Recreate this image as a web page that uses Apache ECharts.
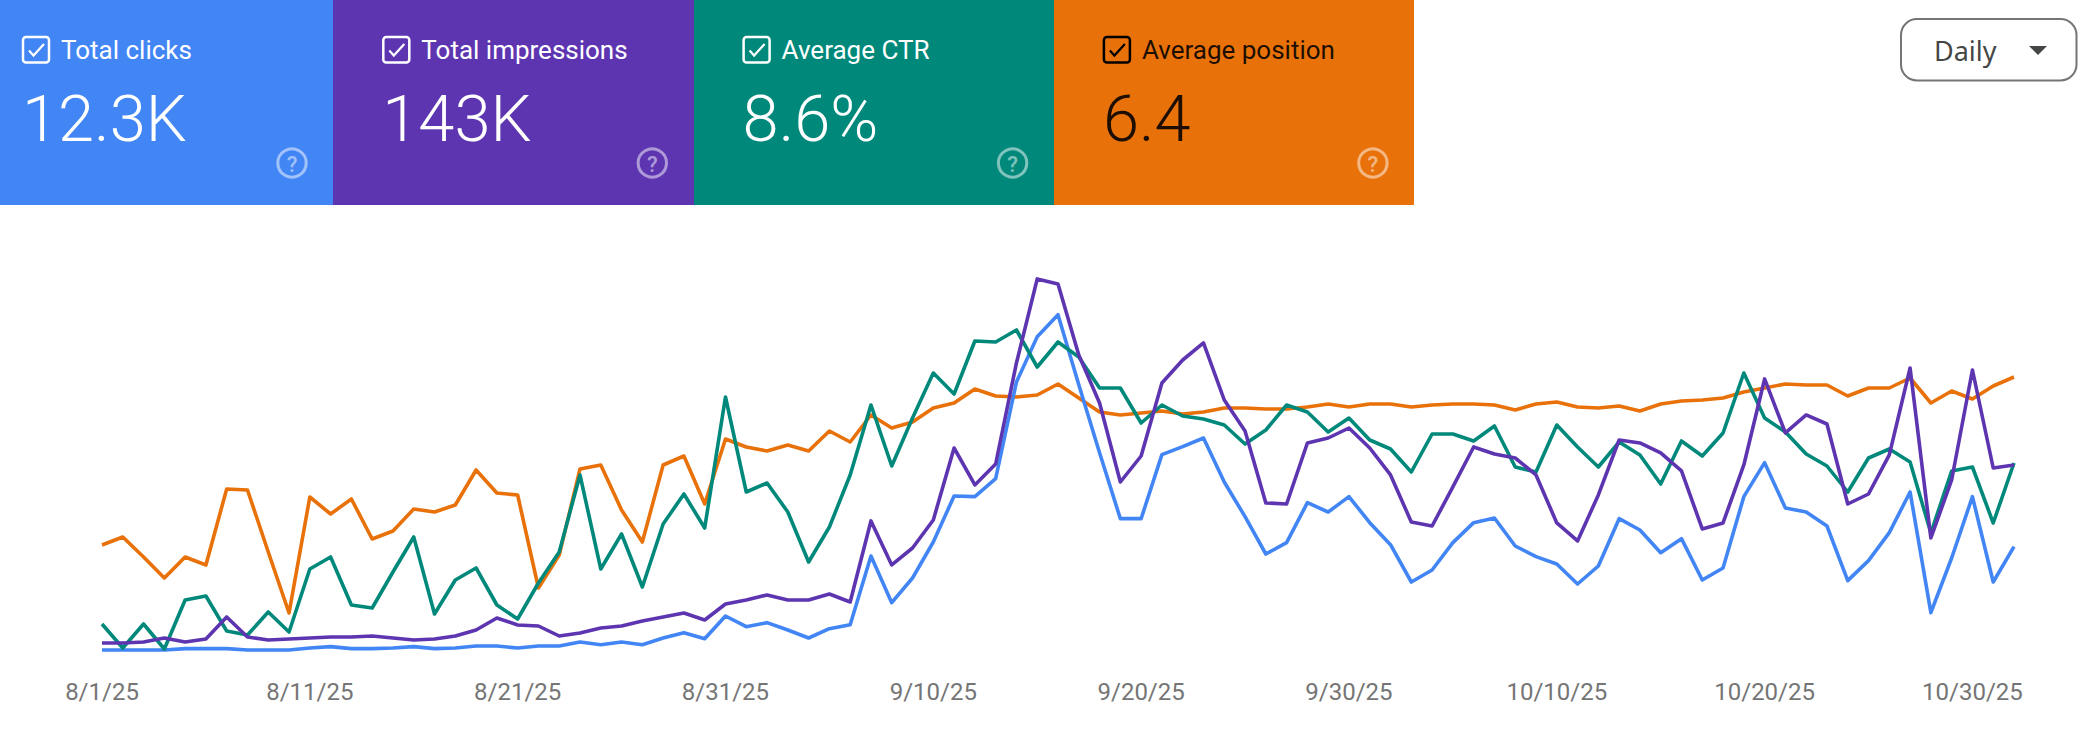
<!DOCTYPE html>
<html>
<head>
<meta charset="utf-8">
<title>Search performance</title>
<style>
  html, body { margin: 0; padding: 0; background: #fff; }
  #chart { width: 2100px; height: 742px; }
</style>
<script src="https://cdn.jsdelivr.net/npm/echarts@6/dist/echarts.min.js"></script>
</head>
<body>
<div id="chart"></div>
<script>
const dates = [
  '8/1/25','8/2/25','8/3/25','8/4/25','8/5/25','8/6/25','8/7/25','8/8/25','8/9/25','8/10/25',
  '8/11/25','8/12/25','8/13/25','8/14/25','8/15/25','8/16/25','8/17/25','8/18/25','8/19/25','8/20/25',
  '8/21/25','8/22/25','8/23/25','8/24/25','8/25/25','8/26/25','8/27/25','8/28/25','8/29/25','8/30/25',
  '8/31/25','9/1/25','9/2/25','9/3/25','9/4/25','9/5/25','9/6/25','9/7/25','9/8/25','9/9/25',
  '9/10/25','9/11/25','9/12/25','9/13/25','9/14/25','9/15/25','9/16/25','9/17/25','9/18/25','9/19/25',
  '9/20/25','9/21/25','9/22/25','9/23/25','9/24/25','9/25/25','9/26/25','9/27/25','9/28/25','9/29/25',
  '9/30/25','10/1/25','10/2/25','10/3/25','10/4/25','10/5/25','10/6/25','10/7/25','10/8/25','10/9/25',
  '10/10/25','10/11/25','10/12/25','10/13/25','10/14/25','10/15/25','10/16/25','10/17/25','10/18/25','10/19/25',
  '10/20/25','10/21/25','10/22/25','10/23/25','10/24/25','10/25/25','10/26/25','10/27/25','10/28/25','10/29/25',
  '10/30/25','10/31/25','11/1/25'
];

const clicks = [
  9,9,9,9,11,11,11,9,9,9,12,14,11,11,12,14,11,12,15,15,12,15,15,21,
  17,21,17,27,35,26,60,44,50,39,27,41,47,150,80,117,171,240,239,266,
  411,479,512,407,305,206,206,302,314,327,261,209,153,170,230,216,239,200,167,111,129,
  170,200,207,165,149,138,108,135,206,189,155,176,114,132,239,290,222,216,195,113,143,185,246,65,147,239,111,164
];

const impressions = [
  150,150,161,207,161,196,449,219,184,196,207,219,219,230,207,184,196,230,299,437,357,345,
  230,265,322,345,403,449,495,414,598,644,702,644,644,713,621,1553,1047,1242,1564,2392,1967,2208,
  3370,4336,4278,3462,2910,2001,2300,3140,3404,3600,2944,2588,1760,1748,2450,2507,2622,2392,2082,1541,1495,
  1944,2404,2323,2277,2082,1530,1323,1852,2484,2450,2335,2128,1461,1530,2197,3186,2565,2772,2668,1748,1863,2312,3312,1357,2024,3289,2162,2197
];

const ctr = [
  5.84,5.36,5.84,5.34,6.32,6.40,5.70,5.62,6.08,5.68,6.94,7.18,6.22,6.16,6.88,7.58,6.04,6.72,6.96,6.22,5.94,6.66,7.28,8.82,
  6.94,7.64,6.58,7.84,8.44,7.76,10.38,8.48,8.66,8.08,7.08,7.78,8.82,10.22,9.00,9.96,10.86,10.44,
  11.50,11.48,11.72,10.98,11.48,11.18,10.56,10.56,9.86,10.22,10.00,9.94,9.82,9.44,9.72,10.22,10.08,9.68,9.96,9.52,9.34,8.88,9.64,
  9.64,9.50,9.80,8.98,8.88,9.82,9.38,8.98,9.48,9.22,8.64,9.50,9.20,9.66,10.86,9.96,9.68,9.24,9.00,8.48,9.16,9.34,9.08,7.66,8.90,8.98,7.86,9.06
];

const position = [
  8.46,8.30,8.70,9.12,8.70,8.86,7.34,7.36,8.60,9.82,7.50,7.84,7.54,8.34,8.18,7.74,7.80,7.66,6.96,7.42,7.46,9.32,8.66,
  6.94,6.86,7.76,8.40,6.86,6.68,7.64,6.34,6.50,6.58,6.46,6.58,6.18,6.40,5.86,6.12,6.00,5.72,5.62,5.34,5.48,5.50,5.46,5.24,
  5.52,5.80,5.86,5.82,5.78,5.84,5.80,5.72,5.72,5.74,5.74,5.70,5.64,5.70,5.64,5.64,5.70,5.66,
  5.64,5.64,5.66,5.76,5.64,5.60,5.70,5.72,5.68,5.78,5.64,5.58,5.56,5.52,5.40,5.32,5.24,5.26,5.26,5.48,5.32,5.32,5.12,5.62,5.38,5.54,5.28,5.10
];

const cardTitles = ['Total clicks', 'Total impressions', 'Average CTR', 'Average position'];
const cardValues = ['12.3K', '143K', '8.6%', '6.4'];
const granularity = 'Daily';

const BLUE = '#4285f4', PURPLE = '#5e35b1', TEAL = '#00897b', ORANGE = '#e8710a';
const cardColors = [BLUE, PURPLE, TEAL, ORANGE];
const cardEdges = [0, 333, 694, 1054, 1414];
const FONT = 'Roboto, sans-serif';

// Metric tiles across the top: colored block, checkbox, title, big figure, help icon.
function buildCard(i) {
  const ox = i * 360.3;
  const ink = i === 3 ? 'rgba(0,0,0,0.88)' : '#ffffff';
  const box = i === 3 ? '#000000' : '#ffffff';
  return [
    { type: 'rect', shape: { x: cardEdges[i], y: 0, width: cardEdges[i + 1] - cardEdges[i], height: 205 },
      style: { fill: cardColors[i] } },
    { type: 'rect', shape: { x: ox + 23, y: 37, width: 26, height: 25.5, r: 3 },
      style: { fill: 'none', stroke: box, lineWidth: 2.5 } },
    { type: 'polyline', shape: { points: [[ox + 29, 50.5], [ox + 33.5, 55.5], [ox + 44, 44]] },
      style: { fill: 'none', stroke: box, lineWidth: 2.2 } },
    { type: 'text', x: ox + 61, y: 50,
      style: { text: cardTitles[i], font: '400 26px ' + FONT, fill: ink, align: 'left', verticalAlign: 'middle' } },
    { type: 'text', x: ox + 22, y: 119,
      style: { text: cardValues[i], font: '300 65px ' + FONT, fill: ink, align: 'left', verticalAlign: 'middle' } },
    { type: 'circle', shape: { cx: ox + 292, cy: 163, r: 14.2 },
      style: { fill: 'none', stroke: 'rgba(255,255,255,0.5)', lineWidth: 3 } },
    { type: 'text', x: ox + 292, y: 164,
      style: { text: '?', font: '500 22px ' + FONT, fill: 'rgba(255,255,255,0.5)', align: 'center', verticalAlign: 'middle' } }
  ];
}

// Rounded granularity selector at the top right.
const selector = [
  { type: 'rect', shape: { x: 1901, y: 19, width: 175.5, height: 61.5, r: 16 },
    style: { fill: '#ffffff', stroke: '#757575', lineWidth: 2 } },
  { type: 'text', x: 1934, y: 50,
    style: { text: granularity, font: '400 27px "Noto Sans", sans-serif', fill: '#444746', align: 'left', verticalAlign: 'middle' } },
  { type: 'polygon', shape: { points: [[2029, 46], [2047, 46], [2038, 55]] },
    style: { fill: '#444746' } }
];

function lineSeries(name, data, color, axisIndex, z) {
  return {
    name, type: 'line', data, yAxisIndex: axisIndex, z,
    smooth: false, symbol: 'none', silent: true,
    lineStyle: { color, width: 3.6, join: 'round' }
  };
}

const chart = echarts.init(document.getElementById('chart'), null, { renderer: 'svg', width: 2100, height: 742 });
chart.setOption({
  animation: false,
  backgroundColor: '#ffffff',
  grid: { left: 102, right: 86, top: 256, height: 400 },
  xAxis: {
    type: 'category', data: dates, boundaryGap: false,
    axisLine: { show: false }, axisTick: { show: false }, splitLine: { show: false },
    axisLabel: { interval: 9, color: '#757575', fontFamily: FONT, fontSize: 24, margin: 24, hideOverlap: false }
  },
  // Each metric sits on its own hidden scale; average position runs top-down.
  yAxis: [
    { type: 'value', show: false, min: 0, max: 600 },
    { type: 'value', show: false, min: 0, max: 4600 },
    { type: 'value', show: false, min: 5.2, max: 13.2 },
    { type: 'value', show: false, min: 2.68, max: 10.68, inverse: true }
  ],
  series: [
    lineSeries('Average position', position, ORANGE, 3, 2),
    lineSeries('Total clicks', clicks, BLUE, 0, 3),
    lineSeries('Average CTR', ctr, TEAL, 2, 4),
    lineSeries('Total impressions', impressions, PURPLE, 1, 5)
  ],
  graphic: [...cardTitles.flatMap((_, i) => buildCard(i)), ...selector]
});
</script>
</body>
</html>
